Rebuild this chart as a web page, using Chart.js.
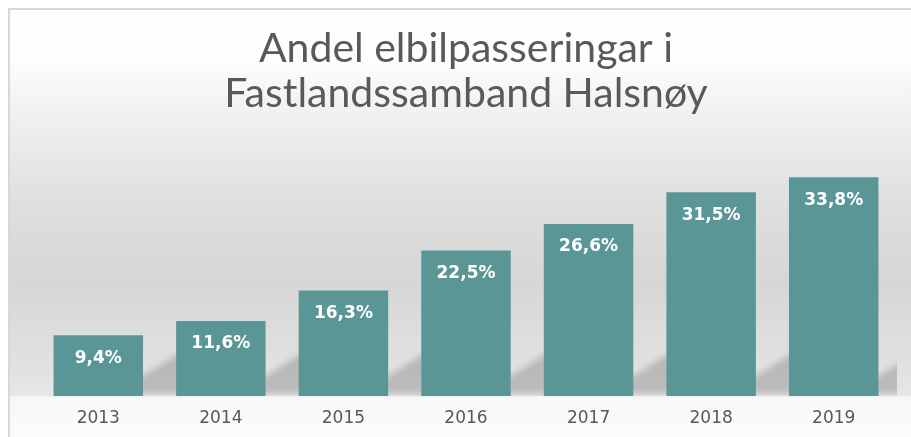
<!DOCTYPE html>
<html>
<head>
<meta charset="utf-8">
<script src="https://cdn.jsdelivr.net/npm/chart.js@4"></script>
<style>
  html, body { margin: 0; padding: 0; background: #ffffff; }
  #frame {
    position: absolute; left: 8px; top: 8px; width: 903px; height: 429px;
    border-top: 2px solid #d8d8d8; border-left: 2px solid #d8d8d8;
    background: linear-gradient(to bottom, #ffffff 0px, #fdfdfd 50px, #f3f3f3 92px, #dedede 200px, #d6d6d6 272px, #e4e4e4 376px, #e8e8e8 386px, #f7f7f7 387px, #fcfcfc 429px);
  }
  #wrap { position: absolute; left: 0; top: 0; width: 911px; height: 437px; }
</style>
</head>
<body>
<div id="frame"></div>
<div id="wrap"><canvas id="chart" width="911" height="437"></canvas></div>
<script>
const years = ['2013', '2014', '2015', '2016', '2017', '2018', '2019'];
const shares = [9.4, 11.6, 16.3, 22.5, 26.6, 31.5, 33.8];
const titleLines = ['Andel elbilpasseringar i', 'Fastlandssamband Halsnøy'];

// floor shadow cast to the right of each bar
const barShadows = {
  id: 'barShadows',
  beforeDatasetsDraw(chart) {
    const ctx = chart.ctx;
    const area = chart.chartArea;
    ctx.save();
    ctx.beginPath();
    ctx.rect(area.left, area.top, area.right - area.left + 2, area.bottom - area.top);
    ctx.clip();
    ctx.filter = 'blur(3px)';
    ctx.fillStyle = 'rgba(0, 0, 0, 0.18)';
    chart.getDatasetMeta(0).data.forEach((bar) => {
      const right = bar.x + bar.width / 2;
      const bottom = bar.base;
      ctx.beginPath();
      ctx.moveTo(right - 20, bottom - 2);
      ctx.lineTo(right + 40, bottom - 2);
      ctx.lineTo(right + 40, bottom - 45);
      ctx.lineTo(right - 20, bottom - 8);
      ctx.closePath();
      ctx.fill();
    });
    ctx.restore();
  }
};

// white percentage labels inside the top of the bars
const barLabels = {
  id: 'barLabels',
  afterDatasetsDraw(chart) {
    const ctx = chart.ctx;
    ctx.save();
    ctx.fillStyle = '#ffffff';
    ctx.font = 'bold 17px "DejaVu Sans"';
    ctx.textAlign = 'center';
    ctx.textBaseline = 'middle';
    chart.getDatasetMeta(0).data.forEach((bar, i) => {
      const txt = shares[i].toFixed(1).replace('.', ',') + '%';
      ctx.fillText(txt, bar.x, bar.y + 23);
    });
    ctx.restore();
  }
};

new Chart(document.getElementById('chart'), {
  type: 'bar',
  data: {
    labels: years,
    datasets: [{
      data: shares,
      backgroundColor: '#5b9696',
      borderWidth: 0,
      barPercentage: 0.73,
      categoryPercentage: 1.0,
    }],
  },
  options: {
    responsive: false,
    animation: false,
    layout: { padding: { left: 37, right: 16, top: 0, bottom: 9 } },
    plugins: {
      legend: { display: false },
      tooltip: { enabled: false },
      title: {
        display: true,
        text: titleLines,
        color: '#595959',
        font: { family: 'Lato', size: 41, weight: 'normal', lineHeight: 1.1 },
        padding: { top: 26, bottom: 21 },
      },
    },
    scales: {
      y: { display: false, min: 0, max: 40 },
      x: {
        grid: { display: false, drawTicks: false },
        border: { display: false },
        ticks: {
          color: '#595959',
          font: { family: 'DejaVu Sans', size: 17 },
          padding: 12,
        },
        afterFit(scale) { scale.height = 32; },
      },
    },
  },
  plugins: [barShadows, barLabels],
});
</script>
</body>
</html>
